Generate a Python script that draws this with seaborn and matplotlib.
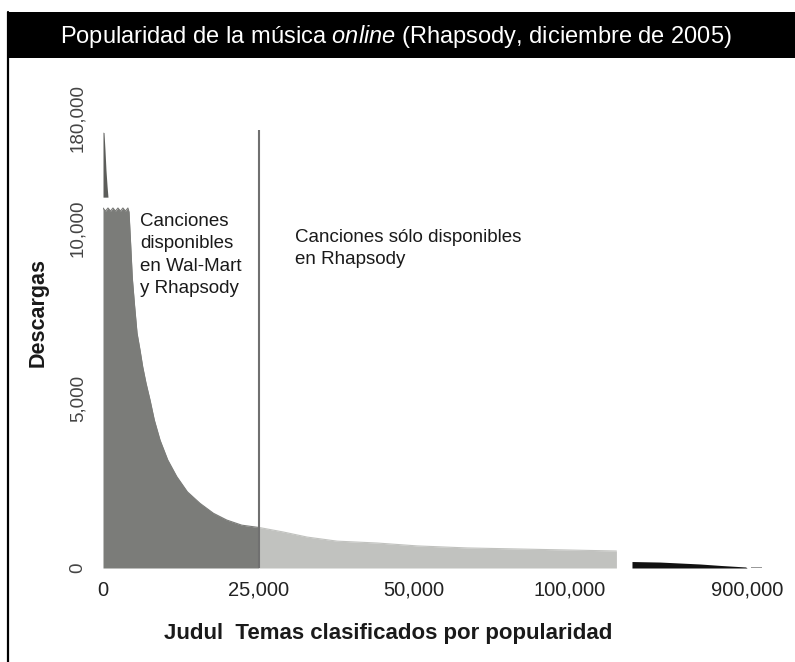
import numpy as np
import pandas as pd
import matplotlib
matplotlib.use("Agg")
import matplotlib.pyplot as plt
from matplotlib.lines import Line2D
from matplotlib.patches import Rectangle
import seaborn as sns

# ─── Data ────────────────────────────────────────────────────────────────────
# head of the curve, drawn above the axis break
head_rank = [0, 160, 320, 480, 650, 800]
head_downloads = [151000, 150000, 114000, 72000, 40000, 16200]
HEAD_FLOOR = 16200

# songs available in Wal-Mart and Rhapsody (rank 0 - 25,000)
body_rank = [0, 400, 800, 1200, 1600, 2000, 2400, 2800, 3200, 3600, 4000,
             4180, 4450, 4710, 5065, 5470, 5950, 6380, 6910, 7560, 8250, 9170,
             10400, 11850, 13560, 15600, 17740, 19890, 22300, 24720, 25000]
body_downloads = [10590, 10500, 10590, 10500, 10590, 10500, 10590, 10500, 10590,
                  10500, 10590, 10470, 9500, 8530, 7740, 6910, 6410, 5920, 5440,
                  4940, 4350, 3760, 3180, 2690, 2240, 1900, 1610, 1410, 1260,
                  1200, 1195]

# songs only on Rhapsody
light_rank = [25000, 28950, 32800, 37620, 44050, 50950, 67040, 83120, 99190, 110000]
light_downloads = [1195, 1060, 910, 790, 735, 650, 590, 560, 530, 500]

# far tail, after the gap
tail_rank = [120000, 130000, 310000, 580000, 720000, 890000, 900000]
tail_downloads = [190, 190, 175, 118, 75, 30, 0]
dash_rank = [915000, 960000]
dash_downloads = [25, 25]

split_rank = 25000
split_top = 155000

x_ticks = [0, 25000, 50000, 100000, 900000]
x_tick_labels = ["0", "25,000", "50,000", "100,000", "900,000"]
y_ticks = [0, 5000, 10000, 180000]
y_tick_labels = ["0", "5,000", "10,000", "180,000"]

# ─── Broken (piecewise linear) scales ────────────────────────────────────────
X_BREAKS = [0, 25000, 50000, 100000, 110000, 120000, 900000, 1000000]
X_POS = [0, 1, 2, 3, 3.3, 3.4, 4.14, 4.3]
Y_BREAKS = [0, 10600, 12000, 180000, 260000]
Y_POS = [0, 2.12, 2.17, 2.647, 2.93]

def _fwd(breaks, pos):
    return lambda v: np.interp(v, breaks, pos)

def _inv(breaks, pos):
    return lambda p: np.interp(p, pos, breaks)

# ─── Style ───────────────────────────────────────────────────────────────────
DARK = "#7b7c79"
LIGHT = "#c1c2bf"
TAIL = "#111111"
SPLIT = "#707070"
TEXT = "#1a1a1a"

sns.set_theme(style="white")
plt.rcParams["font.family"] = ["Liberation Sans", "DejaVu Sans"]
plt.rcParams["mathtext.fontset"] = "custom"
plt.rcParams["mathtext.rm"] = "Liberation Sans"
plt.rcParams["mathtext.it"] = "Liberation Sans:italic"

W, H = 795, 662
fig = plt.figure(figsize=(W / 100, H / 100), dpi=100)
fig.patch.set_facecolor("white")
ax = fig.add_axes([103 / W, 94 / H, 669 / W, 498 / H])
ax.set_facecolor("white")

ax.set_xscale("function", functions=(_fwd(X_BREAKS, X_POS), _inv(X_BREAKS, X_POS)))
ax.set_yscale("function", functions=(_fwd(Y_BREAKS, Y_POS), _inv(Y_BREAKS, Y_POS)))

# areas
ax.fill_between(body_rank, 0, body_downloads, color=DARK, lw=0, zorder=1)
ax.fill_between(head_rank, HEAD_FLOOR, head_downloads, color="#5c5d5a", lw=0, zorder=1)
ax.fill_between(light_rank, 0, light_downloads, color=LIGHT, lw=0, zorder=1)
ax.fill_between(tail_rank, 0, tail_downloads, color=TAIL, lw=0, zorder=1)
ax.fill_between(dash_rank, 0, dash_downloads, color="#999999", lw=0, zorder=1)

# outline of the curves
sns.lineplot(x=body_rank, y=body_downloads, ax=ax, color=DARK, lw=0.8,
             estimator=None, sort=False)
sns.lineplot(x=light_rank, y=light_downloads, ax=ax, color=LIGHT, lw=0.8,
             estimator=None, sort=False)

ax.vlines(split_rank, 0, split_top, color=SPLIT, lw=1.5, zorder=3)

ax.set_xlim(0, 1000000)
ax.set_ylim(0, 260000)

ax.set_xticks(x_ticks)
ax.set_xticklabels(x_tick_labels, fontsize=14.5, color="#222")
ax.set_yticks(y_ticks)
ax.set_yticklabels(y_tick_labels, fontsize=13.5, color="#444", rotation=90, va="center")
ax.minorticks_off()
ax.tick_params(axis="x", length=0, pad=9)
ax.tick_params(axis="y", direction="in", length=9, width=1.5, colors="white",
               labelcolor="#444", pad=12, left=True)
sns.despine(ax=ax, left=True, bottom=True)

ax.set_xlabel("Judul  Temas clasificados por popularidad", fontsize=16,
              fontweight="bold", color=TEXT, va="center")
ax.xaxis.set_label_coords((388 - 103) / 669, (568 - 634) / 498)
ax.set_ylabel("Descargas", fontsize=15.5, fontweight="bold", color=TEXT, va="center")
ax.yaxis.set_label_coords((38 - 103) / 669, (568 - 313) / 498)

ax.text((140 - 103) / 669, (568 - 213) / 498,
        "Canciones\ndisponibles\nen Wal-Mart\ny Rhapsody",
        transform=ax.transAxes, fontsize=13.5, color=TEXT, va="top", ha="left",
        linespacing=1.42)
ax.text((295 - 103) / 669, (568 - 229) / 498,
        "Canciones sólo disponibles\nen Rhapsody",
        transform=ax.transAxes, fontsize=13.5, color=TEXT, va="top", ha="left",
        linespacing=1.38)

# title bar and left frame line
fig.add_artist(Rectangle((8 / W, 1 - 58 / H), 1 - 8 / W, 46 / H,
                         transform=fig.transFigure, facecolor="black", lw=0))
fig.add_artist(Line2D([8 / W, 8 / W], [0, 1 - 12 / H], transform=fig.transFigure,
                      color="black", lw=1.6))
fig.text(396 / W, 1 - 36 / H,
         r"Popularidad de la música $\mathit{online}$ (Rhapsody, diciembre de 2005)",
         color="white", fontsize=17, ha="center", va="center")

fig.savefig("out.png", dpi=100)
plt.close(fig)
